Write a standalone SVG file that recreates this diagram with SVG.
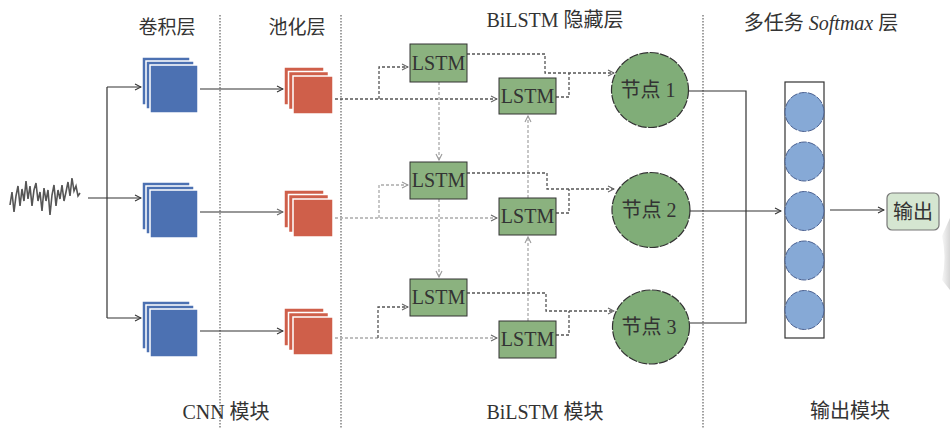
<svg xmlns="http://www.w3.org/2000/svg" width="950" height="428" viewBox="0 0 950 428">
<style>
.lbl{font-family:"Liberation Serif","Noto Sans CJK SC",serif;font-size:20px;fill:#333;text-anchor:middle}
.hd{font-size:19px}
.sep{stroke:#a0a0a0;stroke-width:2;stroke-dasharray:1.5 1.5;fill:none}
.blue{fill:#4C71B2;stroke:#fff;stroke-width:1.5}
.red{fill:#CF5F4A;stroke:#fff;stroke-width:1.5}
.lstm{fill:#8BB27F;stroke:#333;stroke-width:1}
.node{fill:#80AD78;stroke:#333;stroke-width:1.2;stroke-dasharray:9 1.5}
.sm{fill:#86A9D6;stroke:#4A6090;stroke-width:1;stroke-dasharray:8 1.5}
.solid{stroke:#333;stroke-width:1.2;fill:none}
.dk{stroke:#555;stroke-width:1.3;fill:none;stroke-dasharray:3 2}
.lt{stroke:#aaa;stroke-width:1.3;fill:none;stroke-dasharray:3 2}
</style>
<defs>
<marker id="a" viewBox="0 0 8 8" refX="7" refY="4" markerWidth="8" markerHeight="8" markerUnits="userSpaceOnUse" orient="auto"><path d="M1,1 L7,4 L1,7" fill="none" stroke="#333" stroke-width="1.1"/></marker>
<marker id="ad" viewBox="0 0 8 8" refX="7" refY="4" markerWidth="8" markerHeight="8" markerUnits="userSpaceOnUse" orient="auto"><path d="M1,1 L7,4 L1,7" fill="none" stroke="#666" stroke-width="1.1"/></marker>
<marker id="al" viewBox="0 0 8 8" refX="7" refY="4" markerWidth="8" markerHeight="8" markerUnits="userSpaceOnUse" orient="auto"><path d="M1,1 L7,4 L1,7" fill="none" stroke="#999" stroke-width="1.1"/></marker>
<linearGradient id="sh" x1="0" y1="0" x2="1" y2="0"><stop offset="0" stop-color="#f4f4f4"/><stop offset="1" stop-color="#c4c4c4"/></linearGradient>
</defs>
<rect width="950" height="428" fill="#fff"/>

<g id="separators">
<path class="sep" d="M220,15 V428 M341,15 V428 M703,15 V428"/>
</g>

<g id="labels">
<text class="lbl hd" x="167" y="34">卷积层</text>
<text class="lbl hd" x="297" y="34">池化层</text>
<text class="lbl" x="555" y="27">BiLSTM 隐藏层</text>
<text class="lbl" x="821" y="30">多任务 <tspan font-style="italic">Softmax</tspan> 层</text>
<text class="lbl" x="226" y="419">CNN 模块</text>
<text class="lbl" x="545" y="419">BiLSTM 模块</text>
<text class="lbl" x="850" y="418">输出模块</text>
</g>

<g id="signal">
<polyline fill="none" stroke="#555" stroke-width="1.6" points="10,205 12,192 14,212 16,196 18,186 20,206 22,189 24,201 26,181 28,199 30,186 32,206 34,190 36,183 38,201 40,192 42,211 44,188 46,201 48,190 50,215 52,195 54,185 56,206 58,190 60,199 62,185 64,201 66,192 68,182 70,196 72,178 74,191 76,186 78,196 80,193"/>
</g>

<g id="conv1"><rect class="blue" x="142" y="57" width="48" height="48"/><rect class="blue" x="146" y="61" width="48" height="48"/><rect class="blue" x="150" y="65" width="48" height="48"/></g>
<g id="conv2"><rect class="blue" x="142" y="182" width="48" height="48"/><rect class="blue" x="146" y="186" width="48" height="48"/><rect class="blue" x="150" y="190" width="48" height="48"/></g>
<g id="conv3"><rect class="blue" x="142" y="301" width="48" height="48"/><rect class="blue" x="146" y="305" width="48" height="48"/><rect class="blue" x="150" y="309" width="48" height="48"/></g>

<g id="pool1"><rect class="red" x="284" y="67" width="40" height="38"/><rect class="red" x="288.5" y="71.5" width="40" height="38"/><rect class="red" x="293" y="76" width="40" height="38"/></g>
<g id="pool2"><rect class="red" x="284" y="190" width="40" height="38"/><rect class="red" x="288.5" y="194.5" width="40" height="38"/><rect class="red" x="293" y="199" width="40" height="38"/></g>
<g id="pool3"><rect class="red" x="284" y="308" width="40" height="38"/><rect class="red" x="288.5" y="312.5" width="40" height="38"/><rect class="red" x="293" y="317" width="40" height="38"/></g>

<g id="connectors">
<path class="solid" d="M88,198 H107 M107,87 V318"/>
<path class="solid" d="M107,87 H141" marker-end="url(#a)"/>
<path class="solid" d="M107,198 H141" marker-end="url(#a)"/>
<path class="solid" d="M107,318 H141" marker-end="url(#a)"/>
<path class="solid" d="M200,89 H283" marker-end="url(#a)"/>
<path class="solid" d="M200,212 H283" stroke="#888" marker-end="url(#ad)"/>
<path class="solid" d="M200,331 H283" marker-end="url(#a)"/>

<path class="dk" d="M335,99 H497" marker-end="url(#ad)"/>
<path class="dk" d="M379,99 V67 H408" marker-end="url(#ad)"/>
<path class="dk" d="M467,54 H545 V73 H614" marker-end="url(#ad)"/>
<path class="dk" d="M556,97 H569 V73"/>
<path class="lt" d="M439,82 V160" marker-end="url(#al)"/>
<path class="lt" d="M528,198 V116" marker-end="url(#al)"/>

<path class="lt" d="M335,218 H497" marker-end="url(#ad)"/>
<path class="lt" d="M379,218 V185 H408" marker-end="url(#al)"/>
<path class="dk" d="M467,173 H547 V189 H614" marker-end="url(#ad)"/>
<path class="dk" d="M556,213 H569 V189"/>
<path class="lt" d="M439,199 V277" marker-end="url(#al)"/>
<path class="lt" d="M528,321 V237" marker-end="url(#al)"/>

<path class="lt" d="M335,338 H497" marker-end="url(#ad)"/>
<path class="dk" d="M378,338 V307 H408" marker-end="url(#ad)"/>
<path class="dk" d="M467,293 H546 V311 H614" marker-end="url(#ad)"/>
<path class="dk" d="M556,335 H569 V311"/>

<path class="solid" d="M689,91 H746 V323 H690"/>
<path class="solid" d="M690,211 H781" marker-end="url(#a)"/>
<path class="solid" d="M830,210 H884" marker-end="url(#a)"/>
</g>

<g id="lstm_f1"><rect class="lstm" x="410" y="44" width="57" height="38"/><text class="lbl" x="438.5" y="70">LSTM</text></g>
<g id="lstm_b1"><rect class="lstm" x="499" y="78" width="57" height="36"/><text class="lbl" x="527.5" y="103">LSTM</text></g>
<g id="lstm_f2"><rect class="lstm" x="410" y="162" width="57" height="37"/><text class="lbl" x="438.5" y="187">LSTM</text></g>
<g id="lstm_b2"><rect class="lstm" x="499" y="198" width="57" height="37"/><text class="lbl" x="527.5" y="223">LSTM</text></g>
<g id="lstm_f3"><rect class="lstm" x="410" y="279" width="57" height="37"/><text class="lbl" x="438.5" y="304">LSTM</text></g>
<g id="lstm_b3"><rect class="lstm" x="499" y="321" width="57" height="37"/><text class="lbl" x="527.5" y="346">LSTM</text></g>

<g id="node1"><ellipse class="node" cx="650" cy="90" rx="38.5" ry="37.5"/><text class="lbl" x="648" y="97" font-size="19">节点 1</text></g>
<g id="node2"><ellipse class="node" cx="651" cy="210" rx="39" ry="37.5"/><text class="lbl" x="649" y="217" font-size="19">节点 2</text></g>
<g id="node3"><ellipse class="node" cx="651" cy="327" rx="38.5" ry="37"/><text class="lbl" x="649" y="334" font-size="19">节点 3</text></g>

<g id="softmax">
<rect x="785" y="82" width="39" height="256" fill="#fff" stroke="#333" stroke-width="1.2"/>
<circle class="sm" cx="804.5" cy="112" r="19.5"/>
<circle class="sm" cx="804.5" cy="161.5" r="19.5"/>
<circle class="sm" cx="804.5" cy="211" r="19.5"/>
<circle class="sm" cx="804.5" cy="260.5" r="19.5"/>
<circle class="sm" cx="804.5" cy="310" r="19.5"/>
</g>

<g id="output"><rect x="887" y="193" width="52" height="37" rx="5" fill="#D5E6D1" stroke="#777" stroke-width="1.2"/><text class="lbl" x="913" y="219" font-size="19">输出</text></g>

<path d="M942,236 L950,218 V290 L942,280 Q947,258 942,236 Z" fill="url(#sh)" opacity="0.7"/>
</svg>
